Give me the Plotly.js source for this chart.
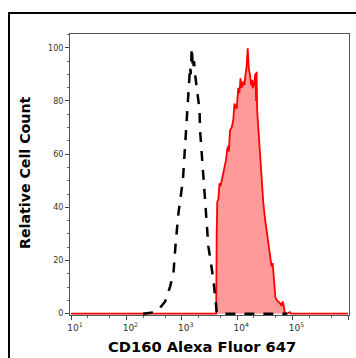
<!DOCTYPE html>
<html>
<head>
<meta charset="utf-8">
<script src="https://cdn.plot.ly/plotly-3.0.1.min.js"></script>
<style>html,body{margin:0;padding:0;background:#fff;}#chart{width:356px;height:358px;}</style>
</head>
<body>
<div id="chart"></div>
<script>
// Isotype control (black dashed) — log10 of fluorescence and relative count
var isoLog10 = [2.30, 2.50, 2.60, 2.70, 2.79, 2.85, 2.89, 2.94, 3.02, 3.07, 3.09, 3.12, 3.135, 3.15, 3.16, 3.17, 3.18, 3.20, 3.22, 3.24, 3.27, 3.32, 3.33, 3.36, 3.40, 3.45, 3.48, 3.57, 3.63, 3.66, 4.00, 4.40, 4.90];
var isoCount = [0, 0.5, 2, 4.6, 10.3, 15.4, 26.7, 37.9, 50.3, 68, 75.5, 81.6, 89, 93, 90, 95, 100, 92, 95, 90, 84, 76.6, 69, 60.5, 47.8, 36.5, 25.3, 12.8, 0.9, 0, 0, 0, 0];

// CD160 stained (red filled) — log10 of fluorescence and relative count
var cdLog10 = [1.00, 3.62, 3.63, 3.64, 3.66, 3.68, 3.70, 3.72, 3.76, 3.80, 3.82, 3.84, 3.85, 3.87, 3.90, 3.93, 3.95, 3.99, 4.02, 4.04, 4.06, 4.08, 4.11, 4.13, 4.15, 4.17, 4.19, 4.21, 4.23, 4.25, 4.27, 4.28, 4.30, 4.31, 4.33, 4.34, 4.35, 4.36, 4.38, 4.40, 4.41, 4.42, 4.44, 4.47, 4.50, 4.53, 4.56, 4.59, 4.62, 4.64, 4.65, 4.67, 4.69, 4.72, 4.77, 4.80, 4.82, 4.84, 4.86, 4.90, 4.95, 4.97, 6.00];
var cdCount = [0, 0, 30, 42, 43, 49, 48, 50, 55, 58, 62, 63, 61, 69, 70, 73, 79, 77, 85, 83, 88.5, 85, 87.3, 86, 90, 93, 99.8, 92, 90, 86, 88, 84.8, 86, 88, 90.4, 80, 91, 76.6, 70, 65, 62, 59, 48, 42, 36, 31, 27, 22, 17.8, 19, 16, 10, 6, 5, 4, 3, 4.6, 3, 0.3, 0, 0.6, 0, 0];

var xTickVals = [10, 100, 1000, 10000, 100000, 1000000];
var xTickText = ['10<sup>1</sup>', '10<sup>2</sup>', '10<sup>3</sup>', '10<sup>4</sup>', '10<sup>5</sup>', '10<sup>6</sup>'];
var yTickVals = [0, 20, 40, 60, 80, 100];
var xTitle = 'CD160 Alexa Fluor 647';
var yTitle = 'Relative Cell Count';

function pow10(a) { return a.map(function (v) { return Math.pow(10, v); }); }

var traces = [
  {
    x: pow10(cdLog10), y: cdCount, type: 'scatter', mode: 'lines',
    fill: 'tozeroy', fillcolor: '#ff9a9a',
    line: {color: '#ff0000', width: 1.8, shape: 'linear'},
    hoverinfo: 'skip'
  },
  {
    x: pow10(isoLog10), y: isoCount, type: 'scatter', mode: 'lines',
    line: {color: '#000000', width: 2.5, dash: '10px,9px'},
    hoverinfo: 'skip'
  }
];

var layout = {
  width: 356, height: 358,
  margin: {l: 70, r: 7, t: 34, b: 43},
  paper_bgcolor: '#ffffff', plot_bgcolor: '#ffffff',
  showlegend: false,
  font: {family: 'DejaVu Sans', size: 8, color: '#333'},
  xaxis: {
    type: 'log', range: [0.982, 6.018],
    tickmode: 'array', tickvals: xTickVals, ticktext: xTickText,
    ticks: 'outside', ticklen: 4, tickcolor: '#444', tickwidth: 1,
    minor: {ticks: 'outside', ticklen: 2, tickcolor: '#666', showgrid: false},
    showgrid: false, zeroline: false,
    showline: true, linecolor: '#555', linewidth: 1, mirror: true,
    tickfont: {family: 'DejaVu Sans', size: 9, color: '#333'},
    ticklabelshift: 4
  },
  yaxis: {
    range: [-0.5, 105.2],
    tickvals: yTickVals,
    ticks: 'outside', ticklen: 4, tickcolor: '#444', tickwidth: 1,
    minor: {dtick: 5, ticks: 'outside', ticklen: 2, tickcolor: '#666', showgrid: false},
    showgrid: false, zeroline: false,
    showline: true, linecolor: '#555', linewidth: 1, mirror: true,
    tickfont: {family: 'DejaVu Sans', size: 8, color: '#333'}
  },
  annotations: [
    {text: '<b>' + xTitle + '</b>', xref: 'paper', yref: 'paper',
     x: (201.5 - 70) / 279, y: (315 - 346) / 281, xanchor: 'center', yanchor: 'middle',
     showarrow: false, font: {family: 'DejaVu Sans', size: 14.7, color: '#000'}},
    {text: '<b>' + yTitle + '</b>', xref: 'paper', yref: 'paper',
     x: (25 - 70) / 279, y: (315 - 173) / 281, xanchor: 'center', yanchor: 'middle',
     textangle: -90,
     showarrow: false, font: {family: 'DejaVu Sans', size: 14.2, color: '#000'}}
  ],
  shapes: [
    {type: 'rect', xref: 'paper', yref: 'paper',
     x0: (9 - 70) / 279, x1: (364 - 70) / 279,
     y0: (315 - 364) / 281, y1: (315 - 13) / 281,
     line: {color: '#000', width: 2}, fillcolor: 'rgba(0,0,0,0)', layer: 'below'}
  ]
};

Plotly.newPlot('chart', traces, layout, {staticPlot: true, displayModeBar: false});
</script>
</body>
</html>
